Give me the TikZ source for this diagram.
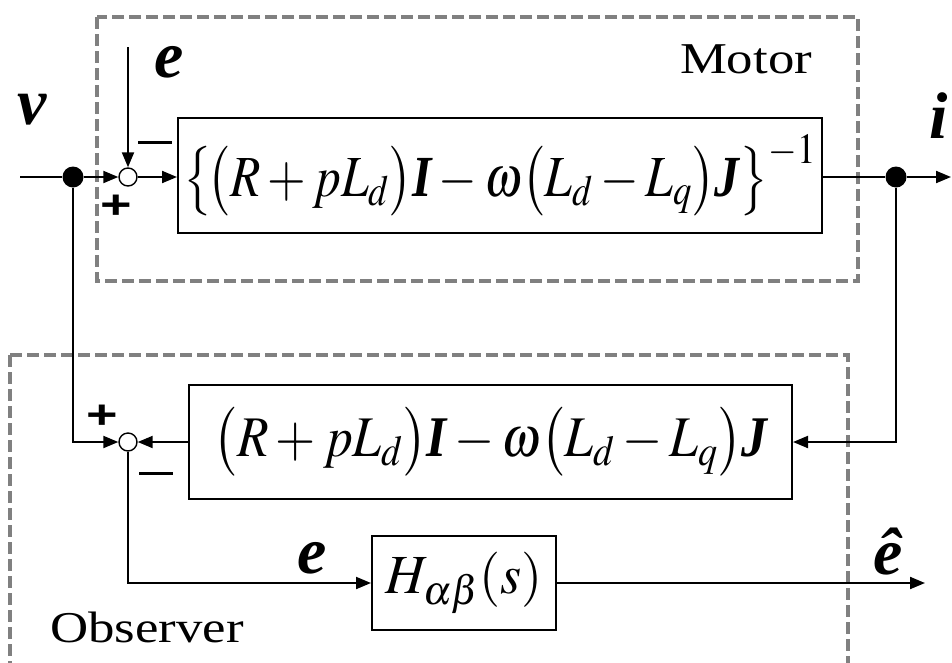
\documentclass[tikz,border=0pt]{standalone}
\usepackage{graphicx}
\usepackage{mathptmx}
\usepackage{fontspec}
\setmainfont{Liberation Serif}
\newfontfamily\plusfont{Liberation Sans}
\usetikzlibrary{arrows.meta}
\definecolor{dgray}{RGB}{128,128,128}
\newcommand{\bi}[1]{\mbox{\bfseries\itshape #1}}
\begin{document}
\begin{tikzpicture}[x=1pt,y=-1pt,
  wire/.style={line width=2pt},
  conn/.style={line width=2pt,-{Triangle[length=15pt,width=12pt]}},
  blk/.style={draw,line width=2pt,rectangle,inner sep=0pt},
  sumc/.style={circle,draw,line width=1.4pt,minimum size=18pt,inner sep=0pt,fill=white},
  dotn/.style={circle,fill=black,minimum size=21pt,inner sep=0pt},
  grp/.style={draw=dgray,line width=4pt,dash pattern=on 12pt off 5pt},
  lbl/.style={inner sep=0pt},
  sig/.style={inner sep=0pt,font=\fontsize{66}{66}\selectfont\bfseries\itshape},
  pm/.style={inner sep=0pt,font=\plusfont\bfseries\fontsize{40}{40}\selectfont},
  mathtxt/.style={font=\fontsize{50}{60}\selectfont}]
\useasboundingbox (0,0) rectangle (952,662);
% group boxes
\draw[grp] (97,17) rectangle (858,281);
\draw[grp] (10,355) -- (848,355) -- (848,690);
\draw[grp] (10,355) -- (10,690);
\node[lbl,font=\fontsize{44}{50}\selectfont] (motor) at (746,59) {\scalebox{1.2}[1]{Motor}};
\node[lbl,font=\fontsize{44}{50}\selectfont] (observer) at (147,627) {\scalebox{1.2}[1]{Observer}};
% nodes
\node[dotn] (d1) at (73,177) {};
\node[sumc] (s1) at (128,177) {};
\node[blk,minimum width=644pt,minimum height=115pt,mathtxt] (b1) at (500,175.5)
  {\resizebox*{632pt}{82pt}{$\bigl\{\!\bigl(R+pL_d\bigr)\bi{I}-\omega\bigl(L_d-L_q\bigr)\bi{J}\bigr\}^{-1}$}};
\node[dotn] (d2) at (896,177) {};
\node[sumc] (s2) at (128,442) {};
\node[blk,minimum width=603pt,minimum height=114pt,mathtxt] (b2) at (490.5,442)
  {\resizebox*{554pt}{69pt}{$\bigl(R+pL_d\bigr)\bi{I}-\omega\bigl(L_d-L_q\bigr)\bi{J}$}};
\node[blk,minimum width=184pt,minimum height=94pt,mathtxt] (h) at (464,583)
  {\resizebox*{157pt}{62pt}{$H_{\alpha\beta}(s)$}};
\coordinate (vin) at (20,177);
\coordinate (etop) at (128,47);
\coordinate (iout) at (951,177);
\coordinate (ehout) at (925,583);
% labels
\node[sig] (vl) at (32,110) {v};
\node[sig] (el) at (169,62) {e};
\node[sig] (il) at (939,116) {i};
\node[sig] (el2) at (312,558) {e};
\node[sig] (ehl) at (888,552) {ê};
\node[pm] (p1) at (116,207) {\scalebox{1.35}[1]{+}};
\node[pm] (p2) at (102,417) {\scalebox{1.35}[1]{+}};
\node[lbl] (m1) at (155,142) {\rule{34pt}{3pt}};
\node[lbl] (m2) at (156,473) {\rule{34pt}{3pt}};
% connectors
\draw[wire] (vin) -- (d1);
\draw[conn] (d1) -- (s1);
\draw[conn] (etop) -- (s1);
\draw[conn] (s1) -- (s1 -| b1.west);
\draw[wire] (d2 -| b1.east) -- (d2);
\draw[conn] (d2) -- (iout);
\draw[conn] (d1) |- (s2);
\draw[conn] (d2) |- (b2.east);
\draw[conn] (b2) -- (s2);
\draw[conn] (s2) |- (h);
\draw[conn] (h) -- (ehout);
\end{tikzpicture}
\end{document}
